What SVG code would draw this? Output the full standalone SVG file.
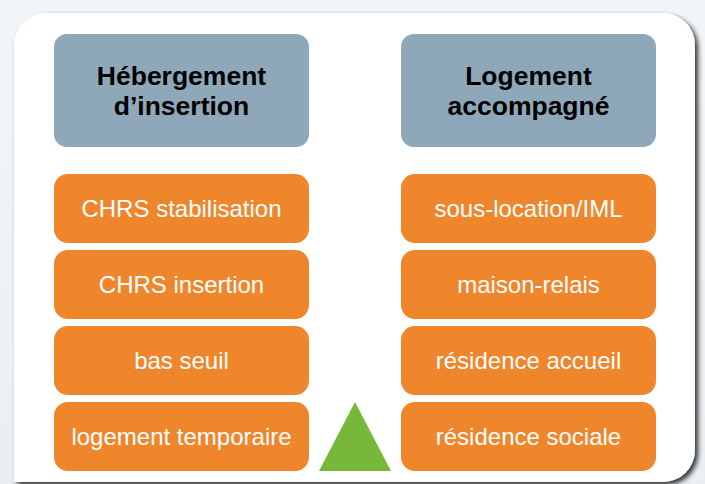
<svg xmlns="http://www.w3.org/2000/svg" width="705" height="484" viewBox="0 0 705 484">
<defs>
<filter id="sh" x="-5%" y="-5%" width="110%" height="110%">
<feGaussianBlur in="SourceAlpha" stdDeviation="2.5"/>
<feOffset dx="3" dy="3" result="b"/>
<feComponentTransfer><feFuncA type="linear" slope="0.8"/></feComponentTransfer>
<feMerge><feMergeNode/><feMergeNode in="SourceGraphic"/></feMerge>
</filter>
<linearGradient id="bg" x1="0" y1="0" x2="0" y2="1">
<stop offset="0" stop-color="#F2F5F8"/>
<stop offset="1" stop-color="#EAEFF4"/>
</linearGradient>
</defs>
<style>
.hdr{fill:#8FA8B9}
.item{fill:#F0862C}
.ht{font-family:"Liberation Sans",Arial,sans-serif;font-weight:bold;font-size:26.5px;fill:#000;text-anchor:middle}
.it{font-family:"Liberation Sans",Arial,sans-serif;font-size:24px;fill:#fff;text-anchor:middle}
</style>
<rect width="705" height="484" fill="url(#bg)"/>
<path id="panel" d="M14,500 L14,45 A32,32 0 0 1 46,13 L663,13 A32,32 0 0 1 695,45 L695,450 A32,32 0 0 1 663,482 L14,482 Z" fill="#fff" filter="url(#sh)"/>
<g id="connectors"/>
<g id="h1"><rect class="hdr" x="54" y="34" width="255" height="113" rx="13"/><text class="ht" x="181.5" y="85">Hébergement</text><text class="ht" x="181.5" y="115">d’insertion</text></g>
<g id="h2"><rect class="hdr" x="401" y="34" width="255" height="113" rx="13"/><text class="ht" x="528.5" y="85">Logement</text><text class="ht" x="528.5" y="115">accompagné</text></g>
<g id="l1"><rect class="item" x="54" y="174" width="255" height="69" rx="14"/><text class="it" x="181.5" y="217">CHRS stabilisation</text></g>
<g id="l2"><rect class="item" x="54" y="250" width="255" height="69" rx="14"/><text class="it" x="181.5" y="293">CHRS insertion</text></g>
<g id="l3"><rect class="item" x="54" y="326" width="255" height="69" rx="14"/><text class="it" x="181.5" y="369">bas seuil</text></g>
<g id="l4"><rect class="item" x="54" y="402" width="255" height="69" rx="14"/><text class="it" x="181.5" y="445">logement temporaire</text></g>
<g id="r1"><rect class="item" x="401" y="174" width="255" height="69" rx="14"/><text class="it" x="528.5" y="217">sous-location/IML</text></g>
<g id="r2"><rect class="item" x="401" y="250" width="255" height="69" rx="14"/><text class="it" x="528.5" y="293">maison-relais</text></g>
<g id="r3"><rect class="item" x="401" y="326" width="255" height="69" rx="14"/><text class="it" x="528.5" y="369">résidence accueil</text></g>
<g id="r4"><rect class="item" x="401" y="402" width="255" height="69" rx="14"/><text class="it" x="528.5" y="445">résidence sociale</text></g>
<g id="tri"><polygon points="355,402 391,471 319,471" fill="#77B83A"/></g>
</svg>
